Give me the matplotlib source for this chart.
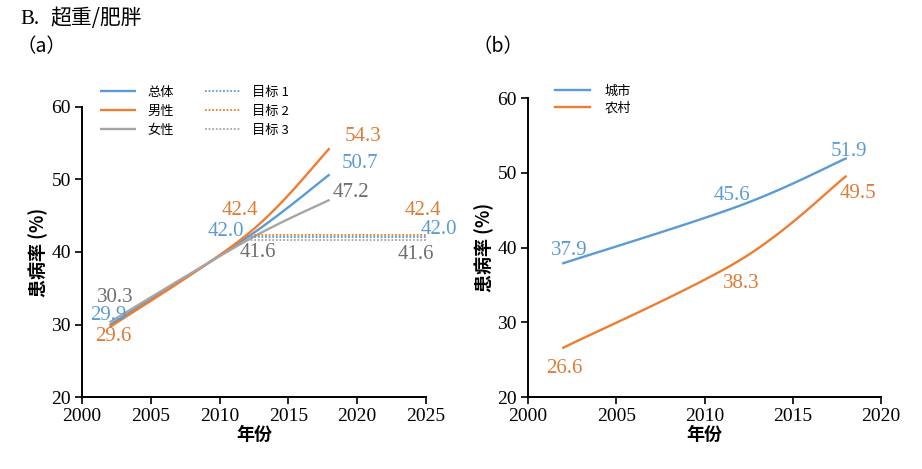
import numpy as np
import matplotlib
matplotlib.use("Agg")
import matplotlib.pyplot as plt

plt.rcParams['font.family'] = ['Liberation Serif', 'Noto Sans CJK SC']
plt.rcParams['axes.unicode_minus'] = False

# ---------------- data ----------------
years = [2002, 2012, 2018]
overall = [29.9, 42.0, 50.7]
male = [29.6, 42.4, 54.3]
female = [30.3, 41.6, 47.2]
target_years = [2012, 2025]
target_overall = [42.0, 42.0]
target_male = [42.4, 42.4]
target_female = [41.6, 41.6]

urban = [37.9, 45.6, 51.9]
rural = [26.6, 38.3, 49.5]

yticks = [20, 30, 40, 50, 60]
xticks_a = [2000, 2005, 2010, 2015, 2020, 2025]
xticks_b = [2000, 2005, 2010, 2015, 2020]

BLUE = '#5B9BD5'
ORANGE = '#ED7D31'
GRAY = '#A5A5A5'
GRAY_TXT = '#6E6E6E'
BLUE_TXT = '#5B9BD5'
ORANGE_TXT = '#E07A35'

CJK = ['Noto Sans CJK SC', 'Liberation Serif']
SERIF = ['Liberation Serif', 'Noto Sans CJK SC']


def smooth(xs, ys, n=60):
    P = np.column_stack([xs, ys]).astype(float)
    m = len(P)
    out = [P[0]]
    for i in range(m - 1):
        p0 = P[i - 1] if i > 0 else P[i]
        p1 = P[i]
        p2 = P[i + 1]
        p3 = P[i + 2] if i + 2 < m else P[i + 1]
        c1 = p1 + (p2 - p0) / 6.0
        c2 = p2 - (p3 - p1) / 6.0
        t = np.linspace(0, 1, n)[1:, None]
        seg = ((1 - t) ** 3) * p1 + 3 * ((1 - t) ** 2) * t * c1 + 3 * (1 - t) * t ** 2 * c2 + t ** 3 * p2
        out.extend(seg)
    out = np.array(out)
    return out[:, 0], out[:, 1]


def label(ax, x, y, s, color, dx, dy, size=15):
    ax.annotate(s, xy=(x, y), xytext=(dx, dy), textcoords='offset points',
                ha='center', va='center', color=color, fontsize=size,
                family=SERIF)


def style(ax, xt):
    for s in ['top', 'right']:
        ax.spines[s].set_visible(False)
    for s in ['left', 'bottom']:
        ax.spines[s].set_linewidth(1.4)
        ax.spines[s].set_color('black')
    ax.set_ylim(yticks[0], yticks[-1])
    ax.set_xlim(xt[0], xt[-1])
    ax.set_yticks(yticks, labels=[str(v) for v in yticks], fontfamily=SERIF, fontsize=14)
    ax.set_xticks(xt, labels=[str(v) for v in xt], fontfamily=SERIF, fontsize=14)
    ax.tick_params(direction='out', length=5, width=1.2, pad=3)
    ax.set_ylabel('患病率 (%)', family=CJK, fontsize=13, fontweight='bold', labelpad=2)
    ax.set_xlabel('年份', family=CJK, fontsize=13, fontweight='bold', labelpad=0)


fig = plt.figure(figsize=(9.22, 4.69), dpi=100)
axa = fig.add_axes([0.0889, 0.1535, 0.3731, 0.6184])
axb = fig.add_axes([0.5727, 0.1535, 0.3828, 0.6375])

# ---- panel a ----
lw = 1.7
for vals, c, name in [(overall, BLUE, '总体'), (male, ORANGE, '男性'), (female, GRAY, '女性')]:
    sx, sy = smooth(years, vals)
    axa.plot(sx, sy, color=c, lw=lw, label=name, solid_capstyle='butt')
for vals, c, name in [(target_overall, BLUE, '目标 1'), (target_male, ORANGE, '目标 2'), (target_female, GRAY, '目标 3')]:
    axa.plot(target_years, vals, color=c, lw=1.3, ls=(0, (1, 1)), label=name)

style(axa, xticks_a)

label(axa, years[0], female[0], f'{female[0]:.1f}', GRAY_TXT, 4, 18)
label(axa, years[0], overall[0], f'{overall[0]:.1f}', BLUE_TXT, -1, 7)
label(axa, years[0], male[0], f'{male[0]:.1f}', ORANGE_TXT, 2.5, -6.5)
label(axa, years[1], male[1], f'{male[1]:.1f}', ORANGE_TXT, -5, 17)
label(axa, years[1], overall[1], f'{overall[1]:.1f}', BLUE_TXT, -15, 4)
label(axa, years[1], female[1], f'{female[1]:.1f}', GRAY_TXT, 8, -9)
label(axa, years[2], male[2], f'{male[2]:.1f}', ORANGE_TXT, 24, 8.5)
label(axa, years[2], overall[2], f'{overall[2]:.1f}', BLUE_TXT, 22, 8)
label(axa, years[2], female[2], f'{female[2]:.1f}', GRAY_TXT, 15, 5)
label(axa, target_years[1], target_male[1], f'{target_male[1]:.1f}', ORANGE_TXT, -2, 17)
label(axa, target_years[1], target_overall[1], f'{target_overall[1]:.1f}', BLUE_TXT, 9, 5.4)
label(axa, target_years[1], target_female[1], f'{target_female[1]:.1f}', GRAY_TXT, -7, -10.5)

axa.legend(ncol=2, loc='upper left', bbox_to_anchor=(0.03, 1.10), frameon=False,
           prop={'family': CJK, 'size': 9.5}, handlelength=2.7, handletextpad=0.9,
           columnspacing=2.3, labelspacing=0.45, borderaxespad=0.2)

# ---- panel b ----
for vals, c, name in [(urban, BLUE, '城市'), (rural, ORANGE, '农村')]:
    sx, sy = smooth(years, vals)
    axb.plot(sx, sy, color=c, lw=lw, label=name)
style(axb, xticks_b)

label(axb, years[0], urban[0], f'{urban[0]:.1f}', BLUE_TXT, 4, 9)
label(axb, years[0], rural[0], f'{rural[0]:.1f}', ORANGE_TXT, 0.5, -15)
label(axb, years[1], urban[1], f'{urban[1]:.1f}', BLUE_TXT, -6, 7)
label(axb, years[1], rural[1], f'{rural[1]:.1f}', ORANGE_TXT, 1, -17)
label(axb, years[2], urban[2], f'{urban[2]:.1f}', BLUE_TXT, 2, 5.4)
label(axb, years[2], rural[2], f'{rural[2]:.1f}', ORANGE_TXT, 9, -12)

axb.legend(loc='upper left', bbox_to_anchor=(0.053, 1.07), frameon=False,
           prop={'family': CJK, 'size': 9.5}, handlelength=2.7, handletextpad=1.1,
           labelspacing=0.3, borderaxespad=0.2)

fig.text(20 / 922, 1 - 19 / 469, 'B.', family=SERIF, fontsize=15, va='center', ha='left')
fig.text(50 / 922, 1 - 18 / 469, '超重/肥胖', family=CJK, fontsize=15, va='center', ha='left')
fig.text(16 / 922, 1 - 47 / 469, '（a）', family=CJK, fontsize=14, va='center', ha='left')
fig.text(472 / 922, 1 - 47 / 469, '（b）', family=CJK, fontsize=14, va='center', ha='left')

fig.savefig('out.png', dpi=100)
